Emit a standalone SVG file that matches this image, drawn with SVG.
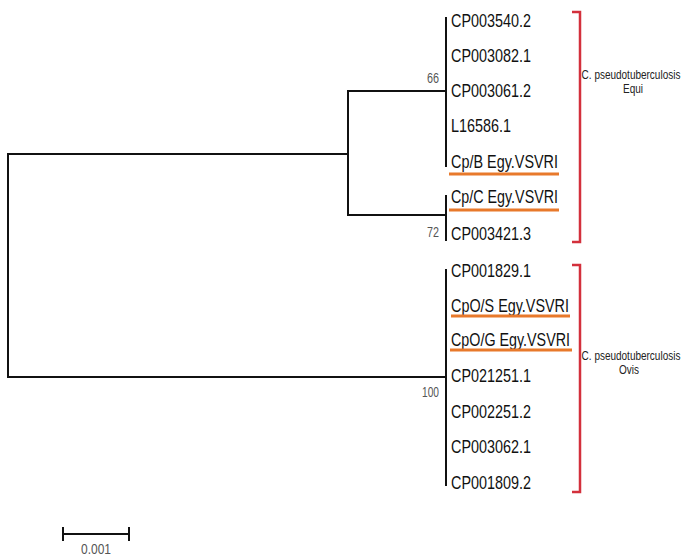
<svg xmlns="http://www.w3.org/2000/svg" width="684" height="560" viewBox="0 0 684 560">
<style>
.br{fill:none;stroke:#111;stroke-width:2;stroke-linecap:square}
.lab{font-family:"Liberation Sans",Arial,sans-serif;font-size:18.5px;fill:#111}
.bs{font-family:"Liberation Sans",Arial,sans-serif;font-size:14px;fill:#555}
.ul{stroke:#E8792B;stroke-width:3}
.rb{fill:none;stroke:#D3303C;stroke-width:2.5}
.grp{font-family:"Liberation Sans",Arial,sans-serif;font-size:12.5px;fill:#222;text-anchor:middle}
</style>
<rect width="684" height="560" fill="#fff"/>
<g id="connectors">
<path class="br" d="M8,154 V377"/>
<path class="br" d="M8,154 H348"/>
<path class="br" d="M8,377 H446"/>
<path class="br" d="M348,91 V215"/>
<path class="br" d="M348,91 H446"/>
<path class="br" d="M348,215 H446"/>
<path class="br" d="M446,18 V166"/>
<path class="br" d="M446,196 V240"/>
<path class="br" d="M446,270 V485"/>
</g>
<g id="bootstrap">
<text class="bs" x="439" y="83" text-anchor="end" textLength="12" lengthAdjust="spacingAndGlyphs">66</text>
<text class="bs" x="439" y="237" text-anchor="end" textLength="12" lengthAdjust="spacingAndGlyphs">72</text>
<text class="bs" x="439" y="397" text-anchor="end" textLength="17" lengthAdjust="spacingAndGlyphs">100</text>
</g>
<g id="leaf-CP003540.2"><text class="lab" x="451" y="27" textLength="80" lengthAdjust="spacingAndGlyphs">CP003540.2</text></g>
<g id="leaf-CP003082.1"><text class="lab" x="451" y="62" textLength="80" lengthAdjust="spacingAndGlyphs">CP003082.1</text></g>
<g id="leaf-CP003061.2"><text class="lab" x="451" y="97" textLength="80" lengthAdjust="spacingAndGlyphs">CP003061.2</text></g>
<g id="leaf-L16586.1"><text class="lab" x="451" y="132" textLength="60" lengthAdjust="spacingAndGlyphs">L16586.1</text></g>
<g id="leaf-CpB"><text class="lab" x="451" y="168" textLength="107" lengthAdjust="spacingAndGlyphs">Cp/B Egy.VSVRI</text><line class="ul" x1="449" y1="174" x2="559" y2="174"/></g>
<g id="leaf-CpC"><text class="lab" x="451" y="203" textLength="107" lengthAdjust="spacingAndGlyphs">Cp/C Egy.VSVRI</text><line class="ul" x1="449" y1="210" x2="559" y2="210"/></g>
<g id="leaf-CP003421.3"><text class="lab" x="451" y="240" textLength="80" lengthAdjust="spacingAndGlyphs">CP003421.3</text></g>
<g id="leaf-CP001829.1"><text class="lab" x="451" y="277" textLength="80" lengthAdjust="spacingAndGlyphs">CP001829.1</text></g>
<g id="leaf-CpOS"><text class="lab" x="451" y="312" textLength="118" lengthAdjust="spacingAndGlyphs">CpO/S Egy.VSVRI</text><line class="ul" x1="451" y1="316" x2="570" y2="316"/></g>
<g id="leaf-CpOG"><text class="lab" x="451" y="346" textLength="119" lengthAdjust="spacingAndGlyphs">CpO/G Egy.VSVRI</text><line class="ul" x1="450" y1="350" x2="572" y2="350"/></g>
<g id="leaf-CP021251.1"><text class="lab" x="451" y="382" textLength="80" lengthAdjust="spacingAndGlyphs">CP021251.1</text></g>
<g id="leaf-CP002251.2"><text class="lab" x="451" y="418" textLength="80" lengthAdjust="spacingAndGlyphs">CP002251.2</text></g>
<g id="leaf-CP003062.1"><text class="lab" x="451" y="453" textLength="80" lengthAdjust="spacingAndGlyphs">CP003062.1</text></g>
<g id="leaf-CP001809.2"><text class="lab" x="451" y="489" textLength="80" lengthAdjust="spacingAndGlyphs">CP001809.2</text></g>
<g id="group-equi">
<path class="rb" d="M572,12 H580 V242 H572"/>
<text class="grp" transform="translate(631,79) scale(0.8,1)">C. pseudotuberculosis</text>
<text class="grp" transform="translate(633,93) scale(0.8,1)">Equi</text>
</g>
<g id="group-ovis">
<path class="rb" d="M572,265 H580 V492 H572"/>
<text class="grp" transform="translate(631,360) scale(0.8,1)">C. pseudotuberculosis</text>
<text class="grp" transform="translate(629,374) scale(0.8,1)">Ovis</text>
</g>
<g id="scale-bar">
<path class="br" d="M63,534 H129 M63,528 V540 M129,528 V540" stroke-linecap="butt"/>
<text class="bs" x="96" y="554" text-anchor="middle" textLength="30" lengthAdjust="spacingAndGlyphs">0.001</text>
</g>
</svg>
